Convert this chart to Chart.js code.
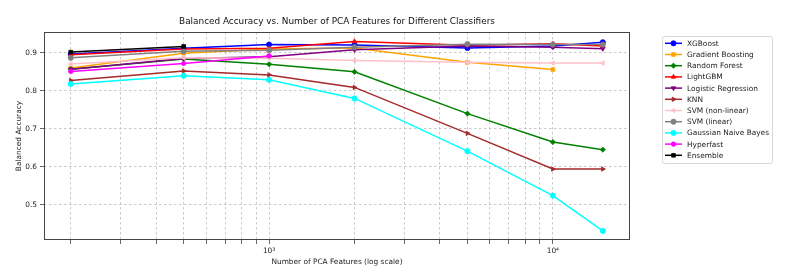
<!DOCTYPE html>
<html>
<head>
<meta charset="utf-8">
<script src="https://cdn.jsdelivr.net/npm/chart.js@4.4.1/dist/chart.umd.min.js"></script>
<style>
  html, body { margin: 0; padding: 0; background: #fff; }
  #wrap { width: 793px; height: 280px; }
</style>
</head>
<body>
<div id="wrap"><canvas id="chart" width="793" height="280"></canvas></div>
<script>
// PCA feature counts (x axis, log scale)
const features = [200, 500, 1000, 2000, 5000, 10000, 15000];

// balanced accuracy per classifier
const xgboost      = [0.897, 0.912, 0.922, 0.921, 0.913, 0.918, 0.928];
const gradBoost    = [0.860, 0.899, 0.910, 0.913, 0.875, 0.856];
const randomForest = [0.857, 0.884, 0.870, 0.850, 0.740, 0.665, 0.645];
const lightgbm     = [0.895, 0.910, 0.912, 0.930, 0.920, 0.924, 0.918];
const logReg       = [0.857, 0.885, 0.890, 0.908, 0.918, 0.915, 0.911];
const knn          = [0.827, 0.852, 0.842, 0.809, 0.688, 0.594, 0.594];
const svmNonLinear = [0.871, 0.887, 0.886, 0.880, 0.875, 0.873, 0.873];
const svmLinear    = [0.887, 0.904, 0.907, 0.915, 0.923, 0.922, 0.922];
const gaussianNB   = [0.818, 0.840, 0.829, 0.780, 0.641, 0.524, 0.431];
const hyperfast    = [0.851, 0.872, 0.892];
const ensemble     = [0.902, 0.917];

const yTicks = [0.5, 0.6, 0.7, 0.8, 0.9];
const xTickLabels = { 1000: '10\u00b3', 10000: '10\u2074' };

const FONT = 'DejaVu Sans';
const MARKER = 2.6;

const series = [
  { label: 'XGBoost', data: xgboost, color: 'blue', style: 'circle', rot: 0 },
  { label: 'Gradient Boosting', data: gradBoost, color: 'orange', style: 'rect', rot: 0 },
  { label: 'Random Forest', data: randomForest, color: 'green', style: 'rectRot', rot: 0 },
  { label: 'LightGBM', data: lightgbm, color: 'red', style: 'triangle', rot: 0 },
  { label: 'Logistic Regression', data: logReg, color: 'purple', style: 'triangle', rot: 180 },
  { label: 'KNN', data: knn, color: 'brown', style: 'triangle', rot: 90 },
  { label: 'SVM (non-linear)', data: svmNonLinear, color: 'pink', style: 'triangle', rot: -90 },
  { label: 'SVM (linear)', data: svmLinear, color: 'gray', style: 'circle', rot: 0 },
  { label: 'Gaussian Naive Bayes', data: gaussianNB, color: 'cyan', style: 'circle', rot: 0 },
  { label: 'Hyperfast', data: hyperfast, color: 'magenta', style: 'star', rot: 0 },
  { label: 'Ensemble', data: ensemble, color: 'black', style: 'rect', rot: 0 }
];

const datasets = series.map((s, i) => ({
  label: s.label,
  data: s.data.map((v, j) => ({ x: features[j], y: v })),
  borderColor: s.color,
  backgroundColor: s.color,
  borderWidth: 1.5,
  pointStyle: s.style,
  pointRotation: s.rot,
  pointRadius: MARKER,
  pointBorderWidth: s.style === 'star' ? 1.5 : 0.8,
  tension: 0,
  fill: false,
  order: series.length - i
}));

// minor + major log ticks for the grid
function logGridTicks(min, max) {
  const out = [];
  for (let e = 2; e <= 4; e++) {
    for (let s = 1; s <= 9; s++) {
      const v = s * Math.pow(10, e);
      if (v >= min && v <= max) out.push({ value: v, major: s === 1 });
    }
  }
  return out;
}

// title, frame box and legend drawn like the matplotlib figure
const decorations = {
  id: 'decorations',
  afterDraw(chart) {
    const { ctx, chartArea: a } = chart;
    ctx.save();
    ctx.strokeStyle = '#444';
    ctx.lineWidth = 1;
    ctx.strokeRect(a.left + 0.5, a.top + 0.5, a.right - a.left - 1, a.bottom - a.top - 1);

    ctx.fillStyle = '#111';
    ctx.font = `8.9px "${FONT}"`;
    ctx.textAlign = 'center';
    ctx.textBaseline = 'middle';
    ctx.fillText('Balanced Accuracy vs. Number of PCA Features for Different Classifiers',
      (a.left + a.right) / 2, 22);

    // legend
    const bx = 662, by = 36, bw = 110, bh = 127;
    ctx.fillStyle = '#fff';
    ctx.strokeStyle = '#d8d8d8';
    ctx.lineWidth = 1;
    ctx.beginPath();
    ctx.roundRect(bx + 0.5, by + 0.5, bw, bh, 2);
    ctx.fill();
    ctx.stroke();

    ctx.font = `7.4px "${FONT}"`;
    ctx.textAlign = 'left';
    series.forEach((s, i) => {
      const y = 43.3 + i * 11.2;
      ctx.strokeStyle = s.color;
      ctx.lineWidth = 1.5;
      ctx.beginPath();
      ctx.moveTo(665, y);
      ctx.lineTo(682, y);
      ctx.stroke();
      ctx.fillStyle = s.color;
      ctx.lineWidth = s.style === 'star' ? 1.5 : 0.8;
      Chart.helpers.drawPoint(ctx, {
        pointStyle: s.style, rotation: s.rot, radius: MARKER,
        borderWidth: s.style === 'star' ? 1.5 : 0.8
      }, 673.5, y);
      ctx.fillStyle = '#222';
      ctx.fillText(s.label, 687, y + 0.5);
    });
    ctx.restore();
  }
};

const gridColor = 'rgba(176, 176, 176, 0.85)';

new Chart(document.getElementById('chart'), {
  type: 'line',
  data: { datasets },
  options: {
    responsive: false,
    devicePixelRatio: 1,
    animation: false,
    layout: { padding: { left: 0, right: 163, top: 32, bottom: 0 } },
    plugins: {
      legend: { display: false },
      title: { display: false },
      tooltip: { enabled: false }
    },
    scales: {
      x: {
        type: 'logarithmic',
        min: 161,
        max: 18700,
        afterFit(scale) { scale.height = 40; },
        afterBuildTicks(scale) { scale.ticks = logGridTicks(scale.min, scale.max); },
        grid: { color: gridColor, lineWidth: 0.8, tickLength: 4, tickColor: '#444', tickWidth: 0.8 },
        border: { display: false, dash: [2.5, 2.5] },
        ticks: {
          autoSkip: false,
          maxRotation: 0,
          padding: 3,
          color: '#222',
          font: { family: FONT, size: 7.4 },
          callback: (v) => xTickLabels[v] || ''
        },
        title: {
          display: true,
          text: 'Number of PCA Features (log scale)',
          color: '#222',
          font: { family: FONT, size: 7.4 },
          padding: { top: 0, bottom: 13 }
        }
      },
      y: {
        min: 0.407,
        max: 0.955,
        afterFit(scale) { scale.width = 44; },
        afterBuildTicks(scale) { scale.ticks = yTicks.map(v => ({ value: v })); },
        grid: { color: gridColor, lineWidth: 0.8, tickLength: 4, tickColor: '#444', tickWidth: 0.8 },
        border: { display: false, dash: [2.5, 2.5] },
        ticks: {
          padding: 3,
          color: '#222',
          font: { family: FONT, size: 7.4 },
          callback: (v) => v.toFixed(1)
        },
        title: {
          display: true,
          text: 'Balanced Accuracy',
          color: '#222',
          font: { family: FONT, size: 7.4 },
          padding: { top: 15, bottom: 0 }
        }
      }
    }
  },
  plugins: [decorations]
});
</script>
</body>
</html>
